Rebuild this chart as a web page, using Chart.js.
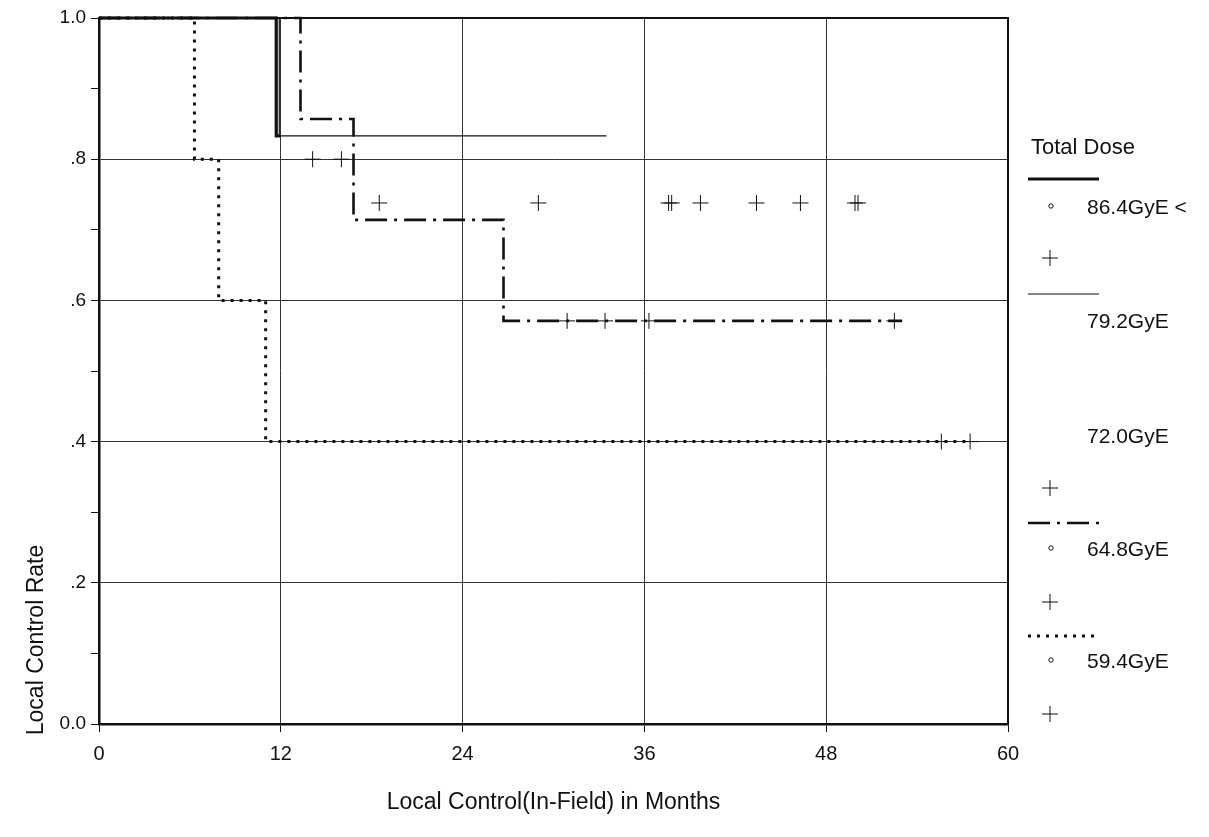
<!DOCTYPE html>
<html>
<head>
<meta charset="utf-8">
<script src="https://cdn.jsdelivr.net/npm/chart.js@4.4.1/dist/chart.umd.min.js"></script>
<style>
  body { margin: 0; background: #fff; }
  #wrap { width: 1209px; height: 837px; }
</style>
</head>
<body>
<div id="wrap"><canvas id="km_chart" width="1209" height="837"></canvas></div>
<script>
// Kaplan-Meier local control by total dose
const doseLabels = ['86.4GyE <', '79.2GyE', '72.0GyE', '64.8GyE', '59.4GyE'];

// step curves: time of each step (months) and rate after the step
const time864 = [0, 11.7, 12.0];
const rate864 = [1, 0.833, 0.833];
const time792 = [0, 11.9, 33.5];
const rate792 = [1, 0.833, 0.833];
const time648 = [0, 13.3, 16.8, 26.7, 53.0];
const rate648 = [1, 0.857, 0.714, 0.571, 0.571];
const time594 = [0, 6.3, 7.9, 11.0, 57.5];
const rate594 = [1, 0.8, 0.6, 0.4, 0.4];

// censored cases (+)
const cens720Time = [14.1, 16.0, 18.5, 29.0, 37.6, 37.8, 39.7, 43.4, 46.3, 49.9, 50.1];
const cens720Rate = [0.8, 0.8, 0.738, 0.738, 0.738, 0.738, 0.738, 0.738, 0.738, 0.738, 0.738];
const cens648Time = [30.9, 33.4, 36.3, 52.5];
const cens648Rate = [0.571, 0.571, 0.571, 0.571];
const cens594Time = [55.6, 57.5];
const cens594Rate = [0.4, 0.4];

const xTicks = [0, 12, 24, 36, 48, 60];

function pts(t, r) {
    return t.map((v, i) => ({x: v, y: r[i]}));
}

const lineStyles = [
    {width: 3.2, dash: []},
    {width: 1.2, dash: []},
    null,
    {width: 2.6, dash: [22, 7, 3, 7]},
    {width: 3, dash: [3, 6]},
];

function stepSet(t, r, st) {
    return {
        data: pts(t, r),
        showLine: true,
        stepped: true,
        borderColor: '#111',
        borderWidth: st.width,
        borderDash: st.dash,
        pointRadius: 0,
        fill: false,
        clip: 6,
    };
}

function censSet(t, r) {
    return {
        data: pts(t, r),
        showLine: false,
        pointStyle: 'cross',
        pointRadius: 8,
        pointBorderWidth: 1,
        pointBorderColor: '#111',
        clip: 10,
    };
}

const chartFont = 'Liberation Sans, Arial, sans-serif';
const narrowFont = '"Liberation Sans Narrow", "Liberation Sans", Arial, sans-serif';

// рамка вокруг области графика
const framePlugin = {
    id: 'frame',
    beforeDatasetsDraw(chart) {
        const a = chart.chartArea, c = chart.ctx;
        c.save();
        c.strokeStyle = '#111';
        c.lineWidth = 2;
        c.strokeRect(a.left, a.top, a.right - a.left, a.bottom - a.top);
        c.restore();
    }
};

// легенда справа и подписи осей
const legendPlugin = {
    id: 'doseLegend',
    afterDraw(chart) {
        const c = chart.ctx;
        c.save();
        c.fillStyle = '#111';
        c.strokeStyle = '#111';
        c.textBaseline = 'middle';

        c.font = '22px ' + chartFont;
        c.fillText('Total Dose', 1031, 148);

        const rows = [
            {line: 179, label: 208, circle: true, cross: 258},
            {line: 294, label: 322, circle: false, cross: null},
            {line: null, label: 437, circle: false, cross: 488},
            {line: 523, label: 550, circle: true, cross: 602},
            {line: 636, label: 662, circle: true, cross: 714},
        ];
        rows.forEach((row, i) => {
            const st = lineStyles[i];
            if (row.line !== null && st) {
                c.beginPath();
                c.lineWidth = st.width;
                c.setLineDash(st.dash);
                c.moveTo(1028, row.line);
                c.lineTo(1099, row.line);
                c.stroke();
                c.setLineDash([]);
            }
            if (row.circle) {
                c.beginPath();
                c.lineWidth = 1;
                c.arc(1051, row.label - 2, 2.2, 0, Math.PI * 2);
                c.stroke();
            }
            c.font = '21px ' + chartFont;
            c.fillText(doseLabels[i], 1087, row.label);
            if (row.cross !== null) {
                c.beginPath();
                c.lineWidth = 1;
                c.moveTo(1042, row.cross);
                c.lineTo(1058, row.cross);
                c.moveTo(1050, row.cross - 8);
                c.lineTo(1050, row.cross + 8);
                c.stroke();
            }
        });

        // axis titles
        c.font = '23px ' + narrowFont;
        c.textAlign = 'center';
        c.fillText('Local Control(In-Field) in Months', (chart.chartArea.left + chart.chartArea.right) / 2, 803);
        c.translate(37, 640);
        c.rotate(-Math.PI / 2);
        c.fillText('Local Control Rate', 0, 0);
        c.restore();
    }
};

window.onload = function() {
    const datasets = [
        stepSet(time864, rate864, lineStyles[0]),
        stepSet(time792, rate792, lineStyles[1]),
        stepSet(time648, rate648, lineStyles[3]),
        stepSet(time594, rate594, lineStyles[4]),
        censSet(cens720Time, cens720Rate),
        censSet(cens648Time, cens648Rate),
        censSet(cens594Time, cens594Rate),
    ];

    new Chart(document.getElementById('km_chart'), {
        type: 'scatter',
        data: {datasets: datasets},
        options: {
            responsive: false,
            animation: false,
            layout: {padding: {left: 0, right: 201, top: 18, bottom: 0}},
            plugins: {legend: {display: false}, tooltip: {enabled: false}},
            scales: {
                x: {
                    type: 'linear',
                    min: 0,
                    max: 60,
                    afterBuildTicks: scale => {
                        scale.ticks = xTicks.map(v => ({value: v}));
                    },
                    afterFit: scale => { scale.height = 113; },
                    border: {color: '#111', width: 2.5},
                    grid: {
                        color: '#333',
                        lineWidth: 1,
                        tickLength: 8,
                        tickColor: '#111',
                    },
                    ticks: {
                        color: '#111',
                        padding: 10,
                        maxRotation: 0,
                        font: {family: narrowFont, size: 20},
                    }
                },
                y: {
                    min: 0,
                    max: 1,
                    afterFit: scale => { scale.width = 99; },
                    border: {color: '#111', width: 2.5},
                    grid: {
                        color: ctx => (Math.round(ctx.tick.value * 10) % 2 === 0 ? '#333' : 'rgba(0,0,0,0)'),
                        lineWidth: 1,
                        tickLength: 8,
                        tickColor: '#111',
                    },
                    ticks: {
                        stepSize: 0.1,
                        color: '#111',
                        padding: 5,
                        font: {family: chartFont, size: 19},
                        callback: v => {
                            const k = Math.round(v * 10);
                            if (k % 2) return '';
                            if (k === 0) return '0.0';
                            if (k === 10) return '1.0';
                            return '.' + k;
                        }
                    }
                }
            }
        },
        plugins: [framePlugin, legendPlugin]
    });
};
</script>
</body>
</html>
